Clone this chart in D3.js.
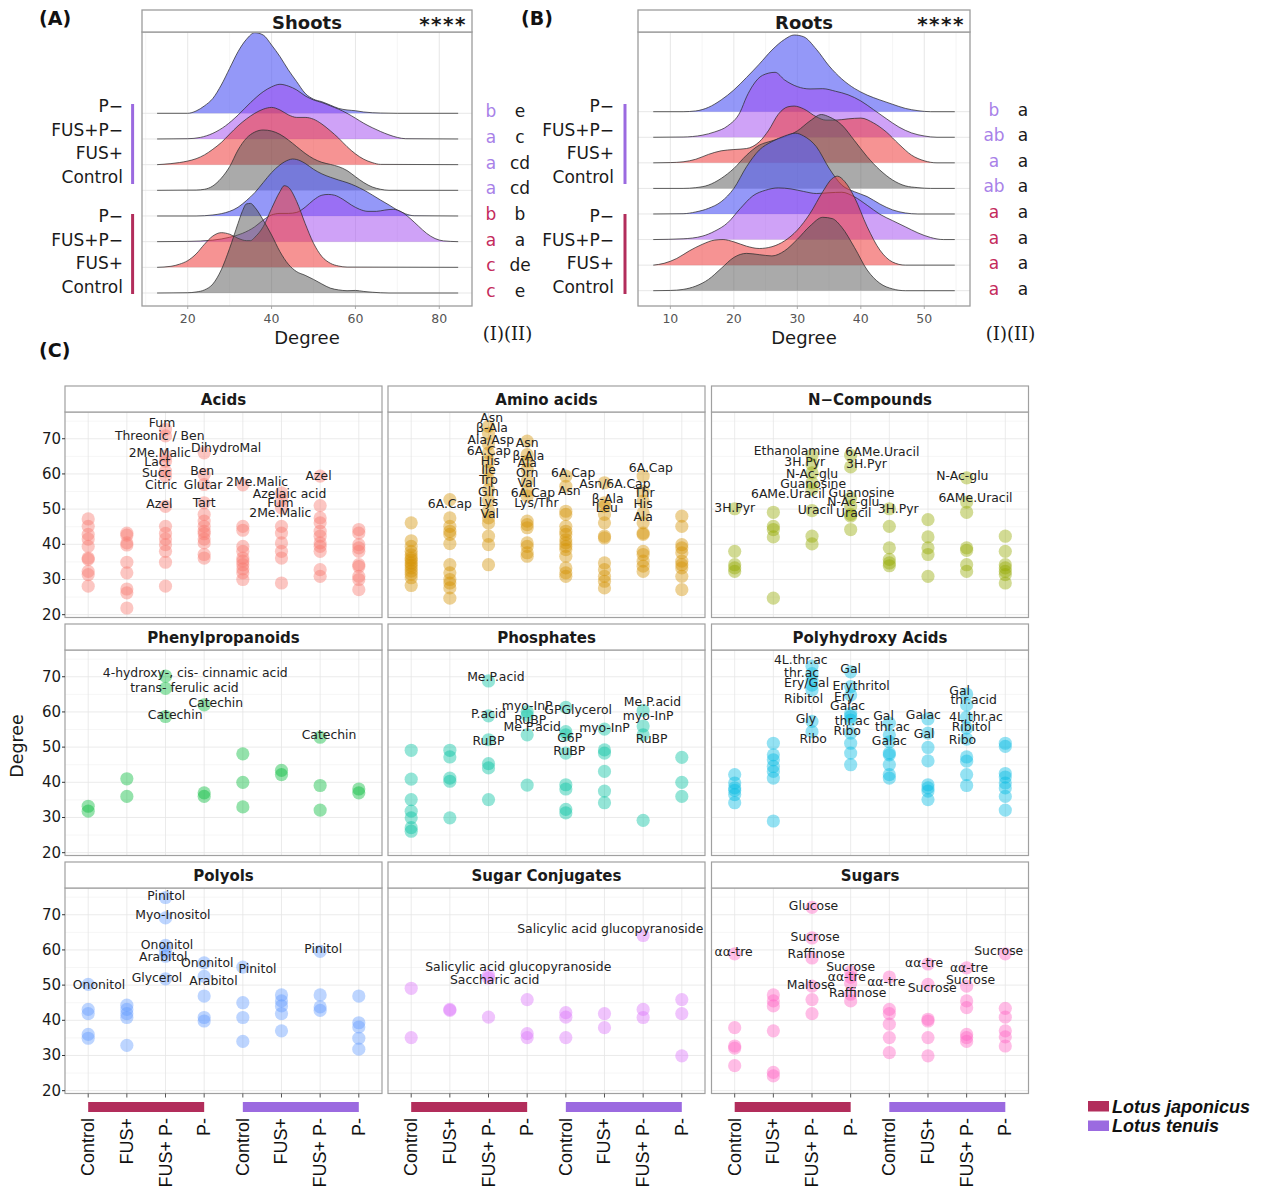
<!DOCTYPE html>
<html>
<head>
<meta charset="utf-8">
<title>Degree distributions of metabolites</title>
<script src="https://cdn.jsdelivr.net/npm/d3@7/dist/d3.min.js"></script>
<style>
  html, body { margin: 0; padding: 0; background: #fff; }
  svg { display: block; }
</style>
</head>
<body>
<svg id="fig" width="1264" height="1186" xmlns="http://www.w3.org/2000/svg"></svg>
<script>
// ================= Ridge panels (A: shoots, B: roots), rows listed top to bottom =================
const ridgeTreatments = ["P−", "FUS+P−", "FUS+", "Control", "P−", "FUS+P−", "FUS+", "Control"];
const ridgeSpecies = ["tenuis", "tenuis", "tenuis", "tenuis", "japonicus", "japonicus", "japonicus", "japonicus"];

const shootsTicks = [20, 40, 60, 80];
const shootsMinorTicks = [10, 30, 50, 70];
const rootsTicks = [10, 20, 30, 40, 50];
const rootsMinorTicks = [15, 25, 35, 45, 55];

const shootsLettersI = ["b", "a", "a", "a", "b", "a", "c", "c"];
const shootsLettersII = ["e", "c", "cd", "cd", "b", "a", "de", "e"];
const rootsLettersI = ["b", "ab", "a", "ab", "a", "a", "a", "a"];
const rootsLettersII = ["a", "a", "a", "a", "a", "a", "a", "a"];

// scaled density (ridge height, in row units) sampled along Degree
const shootsDensity = [
  [[12.7,0],[20,0],[22,0.09],[24,0.29],[26,0.58],[28,1.10],[30,1.75],[32,2.40],[34,2.88],[36,3.14],[38,3.05],[40,2.66],[42,2.21],[44,1.69],[46,1.23],[48,0.78],[50,0.55],[52,0.45],[54,0.32],[56,0.19],[58,0.13],[60,0.10],[62,0.05],[66,0.01],[70,0],[84.5,0]],
  [[12.7,0],[20,0.01],[23,0.06],[26,0.22],[29,0.51],[32,0.93],[35,1.42],[38,1.84],[40,2.03],[42,2.13],[44,2.06],[46,1.91],[48,1.68],[50,1.52],[52,1.42],[54,1.29],[56,1.16],[58,1.00],[60,0.81],[62,0.61],[64,0.44],[66,0.29],[68,0.16],[70,0.06],[72,0.01],[84.5,0]],
  [[12.7,0],[16,0.04],[18,0.08],[20,0.14],[22,0.23],[24,0.38],[26,0.60],[28,0.86],[30,1.19],[32,1.51],[34,1.78],[36,2.00],[38,2.16],[40,2.23],[42,2.13],[44,1.94],[46,1.84],[48,1.84],[50,1.77],[52,1.58],[54,1.32],[56,1.03],[58,0.70],[60,0.42],[62,0.21],[64,0.08],[66,0.01],[84.5,0]],
  [[12.7,0],[22,0.01],[24,0.04],[26,0.17],[28,0.47],[30,0.92],[32,1.57],[34,2.03],[36,2.27],[38,2.35],[40,2.31],[42,2.18],[44,1.96],[46,1.70],[48,1.44],[50,1.23],[52,1.09],[54,1.01],[56,0.92],[58,0.77],[60,0.53],[62,0.30],[64,0.13],[66,0.04],[68,0],[84.5,0]],
  [[12.7,0],[22,0],[26,0.04],[28,0.09],[30,0.18],[32,0.34],[34,0.60],[36,0.91],[38,1.30],[40,1.69],[42,1.99],[44,2.18],[45,2.22],[46,2.20],[48,2.05],[50,1.82],[52,1.64],[54,1.51],[56,1.40],[58,1.30],[60,1.17],[62,1.01],[64,0.82],[66,0.62],[68,0.43],[70,0.23],[72,0.08],[74,0.01],[84.5,0]],
  [[12.7,0],[20,0.01],[26,0.06],[30,0.17],[33,0.32],[36,0.58],[38,0.84],[40,1.04],[42,1.10],[44,1.10],[46,1.14],[48,1.34],[50,1.62],[52,1.81],[53.5,1.84],[55,1.81],[57,1.65],[59,1.43],[61,1.26],[63,1.18],[65,1.18],[67,1.23],[69,1.26],[71,1.16],[73,0.91],[75,0.61],[77,0.32],[79,0.12],[81,0.03],[84.5,0]],
  [[12.7,0],[16,0.04],[18,0.12],[20,0.26],[22,0.52],[24,0.90],[26,1.22],[28,1.35],[30,1.29],[32,1.13],[34,1.04],[35,1.04],[36,1.17],[38,1.58],[40,2.29],[42,2.95],[43,3.18],[44,3.12],[46,2.56],[48,1.71],[50,0.94],[52,0.42],[54,0.16],[56,0.05],[58,0.01],[84.5,0]],
  [[12.7,0],[20,0.01],[22,0.04],[24,0.12],[26,0.35],[28,0.90],[30,1.74],[32,2.71],[33,3.17],[34,3.47],[35,3.49],[36,3.34],[38,2.84],[40,2.26],[42,1.61],[44,1.12],[46,0.83],[48,0.69],[50,0.53],[52,0.35],[54,0.19],[56,0.12],[58,0.09],[60,0.10],[62,0.06],[64,0.03],[68,0],[84.5,0]]
];

const rootsDensity = [
  [[7.3,0],[12,0],[14,0.03],[16,0.17],[18,0.46],[20,0.85],[22,1.34],[24,1.86],[26,2.41],[28,2.83],[29.5,3.00],[31,2.93],[33,2.44],[35,1.79],[37,1.28],[39,0.91],[41,0.65],[43,0.46],[45,0.29],[47,0.13],[49,0.04],[51,0],[54.8,0]],
  [[7.3,0],[12,0.01],[15,0.08],[17,0.21],[19,0.44],[21,0.99],[22,1.58],[23,2.03],[24.5,2.42],[26.5,2.54],[28,2.24],[30,1.98],[32,1.89],[34,1.90],[36,1.80],[38,1.66],[40,1.42],[42,1.08],[44,0.73],[46,0.40],[48,0.17],[50,0.05],[52,0],[54.8,0]],
  [[7.3,0],[10,0.01],[12,0.04],[14,0.14],[16,0.33],[18,0.47],[20,0.52],[22,0.56],[24,0.82],[25.5,1.28],[27,1.90],[28.5,2.19],[29.5,2.22],[31,2.11],[33,1.80],[34.5,1.67],[36,1.67],[38,1.72],[40,1.75],[42,1.56],[44,1.21],[46,0.73],[48,0.30],[50,0.08],[52,0],[54.8,0]],
  [[7.3,0],[12,0],[14,0.03],[16,0.13],[18,0.39],[20,0.78],[22,1.30],[24,1.69],[26,1.86],[28,2.02],[30,2.25],[32,2.64],[33.8,2.89],[35,2.80],[37,2.48],[39,1.87],[41,1.24],[43,0.72],[45,0.33],[47,0.10],[49,0.03],[51,0],[54.8,0]],
  [[7.3,0],[12,0.01],[14,0.08],[16,0.22],[18,0.48],[20,1.00],[22,1.85],[24,2.50],[26,2.83],[28,3.05],[29.7,3.16],[31,3.05],[33,2.63],[35,1.79],[37,1.13],[39,0.87],[41,0.68],[43,0.39],[45,0.16],[47,0.04],[49,0],[54.8,0]],
  [[7.3,0],[12,0.03],[15,0.13],[17,0.33],[19,0.65],[21,1.21],[23,1.71],[25,1.93],[27,2.02],[29,1.98],[31,1.88],[33,1.80],[35,1.83],[37,1.85],[39,1.67],[41,1.34],[43,0.99],[45,0.74],[47,0.50],[49,0.26],[51,0.08],[53,0],[54.8,0]],
  [[7.3,0],[9,0.07],[11,0.26],[13,0.56],[15,0.81],[17,0.98],[18.3,1.00],[20,0.91],[22,0.74],[24,0.65],[26,0.72],[28,0.95],[30,1.37],[32,2.02],[34,2.87],[35.5,3.39],[36.3,3.48],[37.5,3.26],[39,2.65],[41,1.50],[43,0.59],[45,0.12],[47,0],[54.8,0]],
  [[7.3,0],[10,0.01],[12,0.05],[14,0.18],[16,0.44],[18,0.87],[20,1.30],[22,1.46],[24,1.41],[26,1.36],[28,1.56],[30,2.01],[32,2.53],[34,2.87],[35.5,2.82],[37,2.48],[39,1.69],[41,0.81],[43,0.29],[45,0.07],[47,0],[54.8,0]]
];

// ================= Panel C: metabolite degree by class =================
const treatmentLabels = ["Control", "FUS+", "FUS+ P-", "P-", "Control", "FUS+", "FUS+ P-", "P-"];
const speciesNames = ["Lotus japonicus", "Lotus tenuis"];
const degreeTicks = [20, 30, 40, 50, 60, 70];
const classNames = ["Acids", "Amino acids", "N−Compounds", "Phenylpropanoids", "Phosphates",
                    "Polyhydroxy Acids", "Polyols", "Sugar Conjugates", "Sugars"];

// one list of degree values per group (L. japonicus: Control, FUS+, FUS+ P-, P-; then L. tenuis)
const acidsDegree = [
  [47.2,45.1,42.8,41.5,39.4,36.1,35.7,32.3,31.4,28.1],
  [43.2,42.6,40.4,39.8,34.9,31.9,27.3,26.2,21.9],
  [72.7,70.8,65.1,63.6,60.8,59.4,50.8,45.1,43.1,41.5,39.9,38.0,34.9,28.1],
  [66.0,59.8,57.0,51.8,48.5,46.6,45.1,43.7,43.0,41.5,40.4,37.1,36.1],
  [56.9,45.1,44.0,39.4,38.0,36.1,35.2,34.2,33.0,31.9,30.0],
  [54.6,52.7,50.4,45.1,43.2,40.4,38.0,36.1,29.0],
  [59.4,51.0,47.5,46.1,43.7,42.3,40.4,39.4,38.0,32.8,30.9],
  [44.2,43.2,39.9,39.0,38.0,34.2,33.7,30.9,30.0,27.1]
];
const aminoDegree = [
  [46.1,41.0,39.4,38.0,37.0,36.1,35.5,34.7,34.0,33.3,32.4,31.5,30.5,28.3],
  [52.7,47.5,45.1,43.7,42.8,40.2,34.2,31.9,30.0,29.0,27.6,24.7],
  [73.5,71.5,68.5,66.0,63.5,61.0,58.5,55.5,52.5,49.5,47.5,46.0,42.3,39.9,34.2],
  [69.3,65.5,63.6,61.3,58.0,55.1,53.7,46.6,45.6,44.7,40.4,39.4,37.6,36.6],
  [59.4,56.5,49.4,48.5,45.1,43.7,42.8,41.3,40.4,39.4,38.5,36.6,33.3,31.9,30.9],
  [57.5,51.8,50.8,48.5,46.1,42.3,41.8,34.7,32.8,30.9,29.5,27.6],
  [59.4,55.1,52.3,48.9,46.1,43.2,42.8,38.0,37.1,35.2,33.8,32.3],
  [48.0,45.1,39.9,39.0,37.6,35.2,34.2,33.3,30.9,27.1]
];
const nCompDegree = [
  [50.1,38.0,34.2,33.3,32.3],
  [49.1,45.1,44.2,42.1,24.7],
  [65.3,62.7,60.3,57.5,55.6,49.6,42.3,40.1],
  [65.3,62.0,53.2,50.8,48.5,48.0,44.2],
  [50.1,45.1,39.0,35.7,34.7,33.9],
  [47.0,42.1,39.0,37.1,30.9],
  [58.9,52.0,49.1,39.0,38.3,34.2,32.3],
  [42.3,38.0,34.2,33.3,32.3,31.4,29.0]
];
const phenylDegree = [
  [33.2,31.8], [41.0,36.0], [70.2,66.7,58.7], [62.0,37.0,36.0],
  [48.1,40.0,33.0], [43.4,42.2], [52.8,39.1,32.1], [38.1,37.0]
];
const phosphDegree = [
  [49.1,40.9,35.1,31.8,29.9,27.1,26.1],
  [49.1,47.2,41.2,40.3,29.9],
  [68.8,58.9,52.1,45.3,44.1,35.1],
  [60.1,59.0,53.5,39.2],
  [61.3,54.4,53.5,48.3,39.3,38.1,32.3,31.3],
  [55.1,49.2,48.3,43.1,37.5,34.2],
  [60.4,56.0,53.5,29.2],
  [47.1,40.0,36.0]
];
const polyhydroxyDegree = [
  [42.2,39.8,38.4,37.7,36.5,34.2],
  [51.1,47.8,46.4,44.5,43.1,41.2,29.0],
  [73.0,70.9,69.1,67.6,66.2,57.3,54.4],
  [71.4,67.2,64.8,59.6,58.7,57.7,54.0,51.1,48.3,45.0],
  [56.8,53.5,51.5,48.3,47.8,45.0,42.2,41.2],
  [58.0,54.0,49.9,46.1,39.3,38.4,37.5,35.1],
  [65.1,62.0,58.5,55.4,52.3,47.2,46.0,42.2,39.1],
  [51.1,50.2,42.5,41.5,39.8,38.4,36.0,32.1]
];
const polyolsDegree = [
  [50.2,43.1,41.9,36.0,34.9],
  [44.3,43.1,41.9,40.8,32.9],
  [74.9,69.1,61.3,59.6,58.2,51.8],
  [56.3,52.5,46.9,40.8,39.8],
  [55.1,45.0,40.8,34.0],
  [47.2,45.5,44.1,41.9,37.0],
  [59.6,47.2,43.8,42.8],
  [46.9,39.3,38.1,34.9,31.8]
];
const conjugatesDegree = [
  [49.1,35.1], [43.1,42.8], [52.8,52.0,40.9], [45.9,36.2,35.1],
  [42.2,40.9,35.1], [41.9,37.9], [64.1,43.1,40.8], [45.9,41.9,29.9]
];
const sugarsDegree = [
  [58.9,37.9,32.7,32.1,27.1],
  [47.2,45.5,44.1,37.0,25.2,24.2],
  [72.1,63.4,57.7,49.7,45.9,41.9],
  [53.8,52.2,50.5,47.4,45.5],
  [52.3,43.1,41.9,38.9,35.1,30.8],
  [56.0,50.2,40.3,39.8,35.1,29.9],
  [54.9,49.7,45.5,43.6,36.0,35.1,34.0],
  [58.9,43.4,40.9,37.0,35.3,32.7]
];

// repelled labels: [group, text, degree at which the label sits, sideways shift in group steps]
const acidsLabels = [
  [2,"Fum",74.6,-0.09],[2,"Threonic / Ben",70.9,-0.15],[2,"2Me.Malic",66.2,-0.15],[2,"Lact",63.6,-0.21],
  [2,"Succ",60.3,-0.23],[2,"Citric",56.9,-0.11],[2,"Azel",51.6,-0.16],[3,"DihydroMal",67.4,0.57],
  [3,"Ben",61.0,-0.05],[3,"Glutar",56.9,-0.03],[3,"Tart",51.8,0],[4,"2Me.Malic",57.9,0.37],
  [5,"Azelaic acid",54.3,0.21],[5,"Fum",52.0,-0.03],[5,"2Me.Malic",49.1,-0.03],[6,"Azel",59.6,-0.04]
];
const aminoLabels = [
  [1,"6A.Cap",51.6,0],
  [2,"Asn",76.0,0.08],[2,"β-Ala",73.1,0.09],[2,"Ala/Asp",69.8,0.06],[2,"6A.Cap",66.8,0.01],[2,"His",63.9,0.05],
  [2,"Ile",61.3,0],[2,"Trp",58.4,0],[2,"Gln",55.1,0],[2,"Lys",52.1,0],[2,"Val",48.7,0.03],
  [3,"Asn",68.9,0],[3,"β-Ala",65.3,0.03],[3,"Ala",63.2,0],[3,"Orn",60.5,0],[3,"Val",57.5,-0.01],
  [3,"6A.Cap",54.8,0.15],[3,"Lys/Thr",52.0,0.24],
  [4,"6A.Cap",60.3,0.19],[4,"Asn",55.3,0.09],
  [5,"Asn/6A.Cap",57.3,0.27],[5,"β-Ala",52.9,0.08],[5,"Leu",50.4,0.06],
  [6,"6A.Cap",61.7,0.2],[6,"Thr",54.6,0.03],[6,"His",51.5,0],[6,"Ala",48.0,0]
];
const nCompLabels = [
  [0,"3H.Pyr",50.4,0],[2,"Ethanolamine",66.7,-0.40],[2,"3H.Pyr",63.4,-0.19],[2,"N-Ac-glu",60.1,0],
  [2,"Guanosine",57.3,0.03],[2,"6AMe.Uracil",54.4,-0.62],[2,"Uracil",49.9,0.09],
  [3,"6AMe.Uracil",66.5,0.82],[3,"3H.Pyr",62.9,0.41],[3,"Guanosine",54.8,0.28],[3,"N-Ac-glu",52.3,0.07],
  [3,"Uracil",48.9,0.08],[4,"3H.Pyr",50.1,0.23],[6,"N-Ac-glu",59.6,-0.11],[6,"6AMe.Uracil",53.4,0.23]
];
const phenylLabels = [
  [2,"4-hydroxy-, cis- cinnamic acid",71.2,0.77],[2,"trans- ferulic acid",67.0,0.49],[2,"Catechin",59.4,0.25],
  [3,"Catechin",62.7,0.30],[6,"Catechin",53.5,0.23]
];
const phosphLabels = [
  [2,"Me.P.acid",70.2,0.19],[2,"P.acid",59.6,0],[2,"RuBP",51.9,0],
  [3,"myo-InP",61.7,0],[3,"RuBP",57.9,0.08],[3,"Me.P.acid",55.8,0.13],
  [4,"GPGlycerol",60.6,0.32],[4,"G6P",52.8,0.1],[4,"RuBP",49.0,0.09],
  [5,"myo-InP",55.7,0],[6,"Me.P.acid",62.9,0.24],[6,"myo-InP",58.9,0.13],[6,"RuBP",52.4,0.22]
];
const polyhydroxyLabels = [
  [2,"4L.thr.ac",74.9,-0.29],[2,"thr.ac",71.2,-0.27],[2,"Ery/Gal",68.3,-0.14],[2,"Ribitol",63.7,-0.22],
  [2,"Gly",58.0,-0.16],[2,"Ribo",52.5,0.03],
  [3,"Gal",72.4,0],[3,"Erythritol",67.4,0.27],[3,"Ery",64.3,-0.17],[3,"Galac",61.7,-0.08],
  [3,"thr.ac",57.7,0.04],[3,"Ribo",54.6,-0.09],
  [4,"Gal",59.0,-0.15],[4,"thr.ac",55.8,0.08],[4,"Galac",51.9,0],
  [5,"Galac",59.3,-0.12],[5,"Gal",54.0,-0.1],
  [6,"Gal",66.2,-0.18],[6,"thr.acid",63.4,0.18],[6,"4L.thr.ac",58.7,0.24],[6,"Ribitol",55.8,0.12],[6,"Ribo",52.1,-0.11]
];
const polyolsLabels = [
  [0,"Ononitol",50.2,0.28],[2,"Pinitol",75.4,0.02],[2,"Myo-Inositol",70.0,0.19],[2,"Ononitol",61.5,0.04],
  [2,"Arabitol",58.2,-0.06],[2,"Glycerol",52.3,-0.22],[3,"Ononitol",56.3,0.08],[3,"Arabitol",51.3,0.24],
  [4,"Pinitol",54.6,0.38],[6,"Pinitol",60.3,0.08]
];
const conjugatesLabels = [
  [2,"Salicylic acid glucopyranoside",55.4,0.77],[2,"Saccharic acid",51.6,0.16],
  [6,"Salicylic acid glucopyranoside",66.0,-0.85]
];
const sugarsLabels = [
  [0,"αα-tre",59.6,-0.03],[2,"Glucose",72.5,0.04],[2,"Sucrose",63.7,0.08],[2,"Raffinose",59.1,0.11],
  [2,"Maltose",50.2,-0.03],[3,"Sucrose",55.4,0],[3,"αα-tre",52.4,-0.1],[3,"Raffinose",47.8,0.18],
  [4,"αα-tre",51.1,-0.08],[5,"αα-tre",56.3,-0.1],[5,"Sucrose",49.4,0.11],[6,"αα-tre",54.9,0.06],
  [6,"Sucrose",51.6,0.1],[7,"Sucrose",59.8,-0.17]
];

const classDegrees = [acidsDegree, aminoDegree, nCompDegree, phenylDegree, phosphDegree,
                      polyhydroxyDegree, polyolsDegree, conjugatesDegree, sugarsDegree];
const classLabels = [acidsLabels, aminoLabels, nCompLabels, phenylLabels, phosphLabels,
                     polyhydroxyLabels, polyolsLabels, conjugatesLabels, sugarsLabels];

// ================= drawing =================
const SANS = "'DejaVu Sans', Verdana, sans-serif";
const ARIAL = "'Liberation Sans', Arial, sans-serif";
const svg = d3.select("#fig");

const speciesBar = { japonicus: "#b22d5b", tenuis: "#9b6ae0" };
const speciesLetter = { japonicus: "#c42a5c", tenuis: "#a881e8" };
const ridgeFill = {
  "P−": ["#5b61f4", 0.65],
  "FUS+P−": ["#a046f0", 0.5],
  "FUS+": ["#ee3b3b", 0.55],
  "Control": ["#555555", 0.5]
};
// default ggplot hue palette for nine classes
const hue9 = ["#F8766D", "#D39200", "#93AA00", "#00BA38", "#00C19F", "#00B9E3", "#619CFF", "#DB72FB", "#FF61C3"];

function drawRidgePanel(cfg) {
  const g = svg.append("g");
  const plotTop = cfg.top + cfg.stripH;
  const x = d3.scaleLinear().domain(cfg.domain).range([cfg.left, cfg.right]);
  const y = d3.scalePoint().domain(d3.range(ridgeTreatments.length)).range(cfg.rows);
  const step = y.step();
  const clipId = "clip-" + cfg.id;

  g.append("clipPath").attr("id", clipId).append("rect")
    .attr("x", cfg.left).attr("y", plotTop)
    .attr("width", cfg.right - cfg.left).attr("height", cfg.bottom - plotTop);

  // grid
  g.selectAll(".vmin").data(cfg.minor).join("line")
    .attr("x1", d => x(d)).attr("x2", d => x(d)).attr("y1", plotTop).attr("y2", cfg.bottom)
    .attr("stroke", "#f1f1f1").attr("stroke-width", 0.7);
  g.selectAll(".vmaj").data(cfg.ticks).join("line")
    .attr("x1", d => x(d)).attr("x2", d => x(d)).attr("y1", plotTop).attr("y2", cfg.bottom)
    .attr("stroke", "#e4e4e4").attr("stroke-width", 0.9);
  g.selectAll(".hgrid").data(d3.range(ridgeTreatments.length)).join("line")
    .attr("x1", cfg.left).attr("x2", cfg.right).attr("y1", d => y(d)).attr("y2", d => y(d))
    .attr("stroke", "#e4e4e4").attr("stroke-width", 0.9);

  // ridges, drawn top to bottom so lower rows overlay upper ones
  const ridges = g.append("g").attr("clip-path", `url(#${clipId})`);
  cfg.density.forEach((dens, i) => {
    const base = y(i);
    const [fill, op] = ridgeFill[ridgeTreatments[i]];
    const area = d3.area().curve(d3.curveMonotoneX)
      .x(d => x(d[0])).y0(base).y1(d => base - d[1] * step);
    const line = d3.line().curve(d3.curveMonotoneX)
      .x(d => x(d[0])).y(d => base - d[1] * step);
    ridges.append("path").datum(dens).attr("d", area)
      .attr("fill", fill).attr("fill-opacity", op);
    ridges.append("path").datum(dens).attr("d", line)
      .attr("fill", "none").attr("stroke", "#2e2e2e").attr("stroke-width", 0.75);
  });

  // frame and strip
  g.append("rect").attr("x", cfg.left).attr("y", plotTop)
    .attr("width", cfg.right - cfg.left).attr("height", cfg.bottom - plotTop)
    .attr("fill", "none").attr("stroke", "#9c9c9c").attr("stroke-width", 1.3);
  g.append("rect").attr("x", cfg.left).attr("y", cfg.top)
    .attr("width", cfg.right - cfg.left).attr("height", cfg.stripH)
    .attr("fill", "#fff").attr("stroke", "#9c9c9c").attr("stroke-width", 1.3);
  g.append("text").attr("x", (cfg.left + cfg.right) / 2).attr("y", cfg.top + cfg.stripH / 2 + 1)
    .attr("text-anchor", "middle").attr("dominant-baseline", "central")
    .attr("font-family", SANS).attr("font-weight", "bold").attr("font-size", 18)
    .attr("fill", "#1a1a1a").text(cfg.title);
  g.append("text").attr("x", cfg.right - 5).attr("y", cfg.top + cfg.stripH / 2 + 3)
    .attr("text-anchor", "end").attr("dominant-baseline", "central")
    .attr("font-family", SANS).attr("font-weight", "bold").attr("font-size", 20)
    .attr("letter-spacing", 1.5).attr("fill", "#1a1a1a").text("****");

  // x axis
  g.selectAll(".tk").data(cfg.ticks).join("line")
    .attr("x1", d => x(d)).attr("x2", d => x(d)).attr("y1", cfg.bottom).attr("y2", cfg.bottom + 3)
    .attr("stroke", "#999").attr("stroke-width", 0.8);
  g.selectAll(".tl").data(cfg.ticks).join("text")
    .attr("x", d => x(d)).attr("y", cfg.bottom + 12)
    .attr("text-anchor", "middle").attr("dominant-baseline", "central")
    .attr("font-family", SANS).attr("font-size", 12.5).attr("fill", "#555").text(d => d);
  g.append("text").attr("x", (cfg.left + cfg.right) / 2).attr("y", cfg.bottom + 31)
    .attr("text-anchor", "middle").attr("dominant-baseline", "central")
    .attr("font-family", SANS).attr("font-size", 18).attr("fill", "#1a1a1a").text("Degree");

  // species bars and treatment labels on the left
  ["tenuis", "japonicus"].forEach((sp, gi) => {
    const [b0, b1] = cfg.bars[gi];
    g.append("line").attr("x1", cfg.barX).attr("x2", cfg.barX).attr("y1", b0).attr("y2", b1)
      .attr("stroke", speciesBar[sp]).attr("stroke-width", 3);
    const rows = d3.range(4).map(k => gi * 4 + k);
    const ly = d3.scalePoint().domain(rows).range([b0 + 2, b1 - 7]);
    g.selectAll(null).data(rows).join("text")
      .attr("x", cfg.labelX).attr("y", d => ly(d))
      .attr("text-anchor", "end").attr("dominant-baseline", "central")
      .attr("font-family", SANS).attr("font-size", 17).attr("fill", "#1a1a1a")
      .text(d => ridgeTreatments[d]);
  });

  // significance letters on the right
  g.selectAll(".l1").data(cfg.lettersI).join("text")
    .attr("x", cfg.letterX[0]).attr("y", (d, i) => y(i) - 2)
    .attr("text-anchor", "middle").attr("dominant-baseline", "central")
    .attr("font-family", SANS).attr("font-size", 17)
    .attr("fill", (d, i) => speciesLetter[ridgeSpecies[i]]).text(d => d);
  g.selectAll(".l2").data(cfg.lettersII).join("text")
    .attr("x", cfg.letterX[1]).attr("y", (d, i) => y(i) - 2)
    .attr("text-anchor", "middle").attr("dominant-baseline", "central")
    .attr("font-family", SANS).attr("font-size", 17).attr("fill", "#1a1a1a").text(d => d);
  g.append("text").attr("x", (cfg.letterX[0] + cfg.letterX[1]) / 2 + 2).attr("y", cfg.bottom + 27)
    .attr("text-anchor", "middle").attr("dominant-baseline", "central")
    .attr("font-family", "'DejaVu Serif', 'Liberation Serif', serif").attr("font-size", 18)
    .attr("fill", "#1a1a1a").text("(I)(II)");

  g.append("text").attr("x", cfg.tagX).attr("y", 18)
    .attr("dominant-baseline", "central")
    .attr("font-family", SANS).attr("font-weight", "bold").attr("font-size", 19)
    .attr("fill", "#111").text(cfg.tag);
}

drawRidgePanel({
  id: "shoots", title: "Shoots", tag: "(A)", tagX: 39,
  left: 142, right: 472, top: 10, stripH: 22, bottom: 306,
  domain: [9.1, 87.8], ticks: shootsTicks, minor: shootsMinorTicks,
  rows: [113.3, 293], density: shootsDensity,
  bars: [[104, 184], [214, 294]], barX: 132.6, labelX: 123,
  lettersI: shootsLettersI, lettersII: shootsLettersII, letterX: [491, 520]
});
drawRidgePanel({
  id: "roots", title: "Roots", tag: "(B)", tagX: 521,
  left: 638, right: 970, top: 10, stripH: 22, bottom: 306,
  domain: [4.9, 57.2], ticks: rootsTicks, minor: rootsMinorTicks,
  rows: [111.7, 290.7], density: rootsDensity,
  bars: [[104, 184], [214, 294]], barX: 625, labelX: 614,
  lettersI: rootsLettersI, lettersII: rootsLettersII, letterX: [994, 1023]
});

// ---------- Panel C facets ----------
svg.append("text").attr("x", 39).attr("y", 350).attr("dominant-baseline", "central")
  .attr("font-family", SANS).attr("font-weight", "bold").attr("font-size", 19)
  .attr("fill", "#111").text("(C)");

const facetLeft = [65, 388, 711.5];
const facetWidth = 317;
const stripTop = [386, 624, 862];
const stripH = 26;
const plotH = 205.5;
const degreeDomain = [19.2, 77.6];
const minorDegree = [25, 35, 45, 55, 65, 75];

classNames.forEach((name, k) => {
  const col = k % 3, row = Math.floor(k / 3);
  const x0 = facetLeft[col], x1 = x0 + facetWidth;
  const top = stripTop[row] + stripH, bottom = top + plotH;
  const x = d3.scalePoint().domain(d3.range(8)).range([x0, x1]).padding(0.6);
  const y = d3.scaleLinear().domain(degreeDomain).range([bottom, top]);
  const g = svg.append("g");
  const clipId = "fclip" + k;
  g.append("clipPath").attr("id", clipId).append("rect")
    .attr("x", x0).attr("y", top).attr("width", facetWidth).attr("height", plotH);

  // grid
  g.selectAll(".hm").data(minorDegree).join("line")
    .attr("x1", x0).attr("x2", x1).attr("y1", d => y(d)).attr("y2", d => y(d))
    .attr("stroke", "#f2f2f2").attr("stroke-width", 0.7);
  g.selectAll(".hM").data(degreeTicks).join("line")
    .attr("x1", x0).attr("x2", x1).attr("y1", d => y(d)).attr("y2", d => y(d))
    .attr("stroke", "#e6e6e6").attr("stroke-width", 0.8);
  g.selectAll(".vM").data(d3.range(8)).join("line")
    .attr("x1", d => x(d)).attr("x2", d => x(d)).attr("y1", top).attr("y2", bottom)
    .attr("stroke", "#e6e6e6").attr("stroke-width", 0.8);

  // points
  const pts = classDegrees[k].flatMap((vals, gi) => vals.map(v => [gi, v]));
  const inner = g.append("g").attr("clip-path", `url(#${clipId})`);
  inner.selectAll("circle").data(pts).join("circle")
    .attr("cx", d => x(d[0])).attr("cy", d => y(d[1])).attr("r", 6.6)
    .attr("fill", hue9[k]).attr("fill-opacity", 0.42);

  // labels
  inner.selectAll("text").data(classLabels[k]).join("text")
    .attr("x", d => x(d[0]) + d[3] * x.step()).attr("y", d => y(d[2]))
    .attr("text-anchor", "middle").attr("dominant-baseline", "central")
    .attr("font-family", SANS).attr("font-size", 12.4).attr("fill", "#222")
    .text(d => d[1]);

  // frame and strip
  g.append("rect").attr("x", x0).attr("y", top).attr("width", facetWidth).attr("height", plotH)
    .attr("fill", "none").attr("stroke", "#a0a0a0").attr("stroke-width", 1.2);
  g.append("rect").attr("x", x0).attr("y", stripTop[row]).attr("width", facetWidth).attr("height", stripH)
    .attr("fill", "#fff").attr("stroke", "#a0a0a0").attr("stroke-width", 1.2);
  g.append("text").attr("x", (x0 + x1) / 2).attr("y", stripTop[row] + stripH / 2 + 1)
    .attr("text-anchor", "middle").attr("dominant-baseline", "central")
    .attr("font-family", SANS).attr("font-weight", "bold").attr("font-size", 15)
    .attr("fill", "#1a1a1a").text(name);

  // y axis on the first column
  if (col === 0) {
    g.selectAll(".yt").data(degreeTicks).join("line")
      .attr("x1", x0 - 3).attr("x2", x0).attr("y1", d => y(d)).attr("y2", d => y(d))
      .attr("stroke", "#333").attr("stroke-width", 1);
    g.selectAll(".yl").data(degreeTicks).join("text")
      .attr("x", x0 - 4).attr("y", d => y(d))
      .attr("text-anchor", "end").attr("dominant-baseline", "central")
      .attr("font-family", SANS).attr("font-size", 15).attr("fill", "#1a1a1a").text(d => d);
  }

  // x axis on the bottom row
  if (row === 2) {
    g.selectAll(".xt").data(d3.range(8)).join("line")
      .attr("x1", d => x(d)).attr("x2", d => x(d)).attr("y1", bottom).attr("y2", bottom + 4)
      .attr("stroke", "#555").attr("stroke-width", 1);
    [[0, 3, speciesBar.japonicus], [4, 7, speciesBar.tenuis]].forEach(([a, b, c]) => {
      g.append("rect").attr("x", x(a)).attr("y", 1102).attr("width", x(b) - x(a)).attr("height", 10)
        .attr("fill", c);
    });
    g.selectAll(".xl").data(d3.range(8)).join("text")
      .attr("transform", d => `translate(${x(d)},1118) rotate(-90)`)
      .attr("text-anchor", "end").attr("dominant-baseline", "central")
      .attr("font-family", ARIAL).attr("font-size", 18).attr("fill", "#111")
      .text(d => treatmentLabels[d]);
  }
});

svg.append("text").attr("transform", "translate(17,746) rotate(-90)")
  .attr("text-anchor", "middle").attr("dominant-baseline", "central")
  .attr("font-family", SANS).attr("font-size", 17.5).attr("fill", "#1a1a1a").text("Degree");

// legend
const legend = svg.append("g");
speciesNames.forEach((sp, i) => {
  const c = i === 0 ? speciesBar.japonicus : speciesBar.tenuis;
  legend.append("rect").attr("x", 1088).attr("y", 1101 + i * 19.5).attr("width", 21).attr("height", 10.5).attr("fill", c);
  legend.append("text").attr("x", 1112).attr("y", 1106.5 + i * 19.5)
    .attr("dominant-baseline", "central")
    .attr("font-family", ARIAL).attr("font-weight", "bold").attr("font-style", "italic")
    .attr("font-size", 18).attr("fill", "#111").text(sp);
});
</script>
</body>
</html>
